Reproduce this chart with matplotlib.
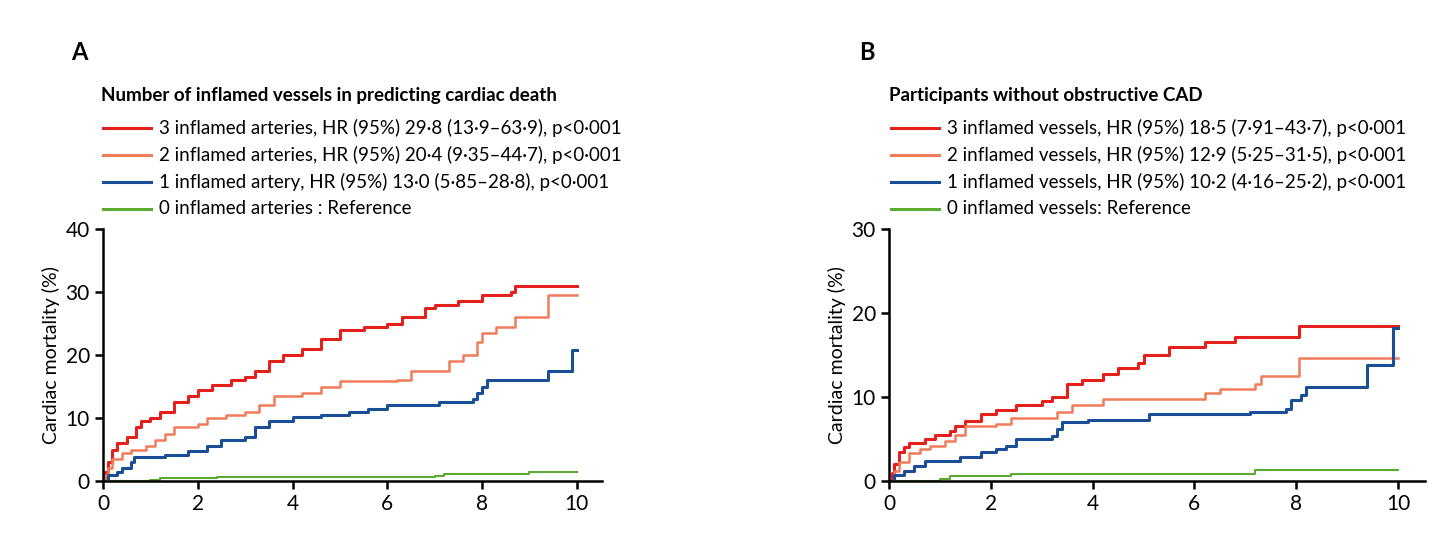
import matplotlib.pyplot as plt
from matplotlib.lines import Line2D

plt.rcParams['font.family'] = ['Lato', 'DejaVu Sans']

# %% Panel A data (years, cumulative %)
a3_x = [0, 0.05, 0.1, 0.2, 0.3, 0.5, 0.7, 0.8, 1.0, 1.2, 1.5, 1.8, 2.0, 2.3, 2.7, 3.0, 3.2, 3.5, 3.8, 4.2, 4.6, 5.0, 5.5, 6.0, 6.3, 6.8, 7.0, 7.5, 8.0, 8.6, 8.7, 10]
a3_y = [0, 1.5, 3, 5, 6, 7, 8.5, 9.5, 10, 11, 12.5, 13.5, 14.5, 15.2, 16, 16.5, 17.5, 19, 20, 21, 22.5, 24, 24.5, 25, 26, 27.5, 28, 28.5, 29.5, 30, 31, 31]
a2_x = [0, 0.05, 0.1, 0.2, 0.4, 0.6, 0.9, 1.1, 1.3, 1.5, 2.0, 2.2, 2.6, 3.0, 3.3, 3.6, 4.2, 4.6, 5.0, 6.2, 6.5, 7.3, 7.6, 7.9, 8.0, 8.3, 8.7, 9.4, 10]
a2_y = [0, 1, 2, 3.5, 4.5, 5, 5.5, 6.5, 7.5, 8.5, 9, 10, 10.5, 11, 12, 13.5, 14, 15, 15.8, 16, 17.5, 19, 20, 22, 23.5, 24.5, 26, 29.6, 29.6]
a1_x = [0, 0.1, 0.3, 0.4, 0.6, 0.65, 1.3, 1.8, 2.2, 2.5, 3.0, 3.2, 3.5, 4.0, 4.6, 5.2, 5.6, 6.0, 7.1, 7.8, 7.9, 8.0, 8.1, 9.4, 9.9, 10]
a1_y = [0, 1, 1.5, 2, 3, 3.8, 4.2, 4.8, 5.5, 6.5, 7, 8.5, 9.5, 10.2, 10.5, 11, 11.5, 12, 12.5, 13, 14, 15, 16, 17.5, 20.8, 20.8]
a0_x = [0, 1.0, 1.2, 2.4, 7.0, 7.2, 9.0, 10]
a0_y = [0, 0.2, 0.4, 0.6, 0.8, 1.1, 1.5, 1.5]

# %% Panel B data
b3_x = [0, 0.05, 0.1, 0.2, 0.3, 0.4, 0.7, 0.9, 1.2, 1.3, 1.5, 1.8, 2.1, 2.5, 3.0, 3.2, 3.5, 3.8, 4.2, 4.5, 4.9, 5.0, 5.5, 6.2, 6.8, 8.05, 10]
b3_y = [0, 1, 2, 3.5, 4, 4.5, 5, 5.5, 6, 6.5, 7.2, 8, 8.5, 9, 9.5, 10, 11.5, 12, 12.7, 13.5, 14, 15, 16, 16.5, 17.2, 18.5, 18.5]
b2_x = [0, 0.1, 0.2, 0.4, 0.6, 0.8, 1.1, 1.3, 1.5, 2.1, 2.4, 3.3, 3.6, 4.2, 6.2, 6.5, 7.2, 7.3, 8.05, 10]
b2_y = [0, 1.2, 2.3, 3.3, 3.8, 4.2, 4.8, 5.5, 6.5, 6.8, 7.5, 8.2, 9, 9.8, 10.5, 11, 11.5, 12.5, 14.6, 14.6]
b1_x = [0, 0.1, 0.3, 0.5, 0.7, 1.4, 1.8, 2.1, 2.3, 2.5, 3.2, 3.3, 3.4, 3.9, 5.1, 7.1, 7.8, 7.9, 8.1, 8.2, 9.4, 9.9, 10]
b1_y = [0, 0.7, 1.2, 1.8, 2.4, 2.8, 3.5, 3.8, 4.2, 5, 5.3, 6.2, 7, 7.3, 8, 8.2, 8.6, 9.7, 10.2, 11.2, 13.8, 18.2, 18.2]
b0_x = [0, 1.0, 1.2, 2.4, 7.1, 7.2, 10]
b0_y = [0, 0.2, 0.6, 0.8, 0.8, 1.3, 1.3]

red, orange, blue, green = '#e3201b', '#f07c5a', '#1a4e96', '#5aab32'

labels_a = ["3 inflamed arteries, HR (95%) 29·8 (13·9–63·9), p<0·001",
            "2 inflamed arteries, HR (95%) 20·4 (9·35–44·7), p<0·001",
            "1 inflamed artery, HR (95%) 13·0 (5·85–28·8), p<0·001",
            "0 inflamed arteries : Reference"]
labels_b = ["3 inflamed vessels, HR (95%) 18·5 (7·91–43·7), p<0·001",
            "2 inflamed vessels, HR (95%) 12·9 (5·25–31·5), p<0·001",
            "1 inflamed vessels, HR (95%) 10·2 (4·16–25·2), p<0·001",
            "0 inflamed vessels: Reference"]

fig = plt.figure(figsize=(14.56, 5.52), dpi=100)
colors = [red, orange, blue, green]
widths = [2.2, 1.8, 2.2, 1.5]


def panel(rect, series, ymax, letter, title, labels, lx):
    ax = fig.add_axes(rect)
    for (x, y), c, w in zip(series, colors, widths):
        ax.step(x, y, where='post', color=c, lw=w)
    ax.set_xlim(0, 10.53)
    ax.set_ylim(0, ymax)
    ax.set_xticks([0, 2, 4, 6, 8, 10])
    ax.set_yticks(range(0, ymax + 1, 10))
    for s in ['top', 'right']:
        ax.spines[s].set_visible(False)
    for s in ['left', 'bottom']:
        ax.spines[s].set_linewidth(1.8)
    ax.tick_params(width=1.8, length=6, labelsize=15)
    ax.set_ylabel("Cardiac mortality (%)", fontsize=14)
    fx = lambda px: px / 1456
    fy = lambda py: 1 - py / 552
    fig.text(fx(lx - 32), fy(52), letter, fontsize=17, fontweight='bold', va='center')
    fig.text(fx(lx - 2), fy(95), title, fontsize=13.5, fontweight='bold', va='center')
    for i, (lab, c) in enumerate(zip(labels, colors)):
        yy = fy(128 + 27 * i)
        fig.add_artist(Line2D([fx(lx), fx(lx + 48)], [yy, yy], color=c, lw=2.2,
                              transform=fig.transFigure))
        fig.text(fx(lx + 56), yy, lab, fontsize=13.5, va='center')


panel([103 / 1456, 1 - 481 / 552, 499 / 1456, 252 / 552],
      [(a3_x, a3_y), (a2_x, a2_y), (a1_x, a1_y), (a0_x, a0_y)],
      40, "A", "Number of inflamed vessels in predicting cardiac death", labels_a, 103)
panel([889 / 1456, 1 - 481 / 552, 536 / 1456, 252 / 552],
      [(b3_x, b3_y), (b2_x, b2_y), (b1_x, b1_y), (b0_x, b0_y)],
      30, "B", "Participants without obstructive CAD", labels_b, 891)

fig.savefig('out.png', dpi=100, facecolor='white')
